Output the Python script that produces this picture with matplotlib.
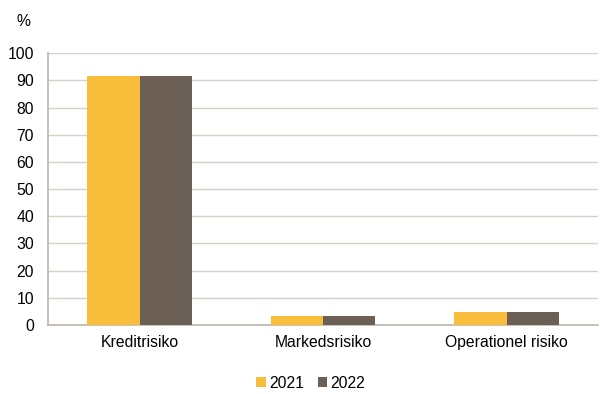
import matplotlib

matplotlib.use("Agg")
import matplotlib.pyplot as plt
import numpy as np

categories = ["Kreditrisiko", "Markedsrisiko", "Operationel risiko"]
years = ["2021", "2022"]
values_2021 = [91.5, 3.4, 4.8]
values_2022 = [91.5, 3.4, 4.9]
yticks = list(range(0, 101, 10))

plt.rcParams["font.family"] = ["Liberation Sans", "DejaVu Sans"]
plt.rcParams["font.size"] = 11.3

fig = plt.figure(figsize=(6.0, 3.94), dpi=100)
ax = fig.add_axes([0.08, 0.175, 0.917, 0.69])

x = np.arange(len(categories))
w = 0.285
ax.bar(x - w / 2, values_2021, width=w, color="#F7BD3B", label=years[0], zorder=3)
ax.bar(x + w / 2, values_2022, width=w, color="#6C6056", label=years[1], zorder=3)

ax.set_xlim(-0.5, len(categories) - 0.5)
ax.set_ylim(0, 100)
ax.set_yticks(yticks)
ax.set_xticks(x)
ax.set_xticklabels(categories)
ax.yaxis.grid(True, color="#D6D1C9", linewidth=1.0, zorder=0)
ax.tick_params(axis="y", length=0, pad=10, colors="black")
ax.tick_params(axis="x", length=0, pad=7, colors="black")
for side in ["top", "right"]:
    ax.spines[side].set_visible(False)
for side in ["left", "bottom"]:
    ax.spines[side].set_color("#BDB6AB")
    ax.spines[side].set_linewidth(1.2)

fig.text(0.027, 0.945, "%", fontsize=11.3, va="center")
fig.legend(loc="center", bbox_to_anchor=(0.518, 0.027), ncol=2, frameon=False,
           handlelength=0.6, handleheight=0.6, handletextpad=0.2, columnspacing=0.9)

fig.savefig("out.png")
plt.close(fig)
